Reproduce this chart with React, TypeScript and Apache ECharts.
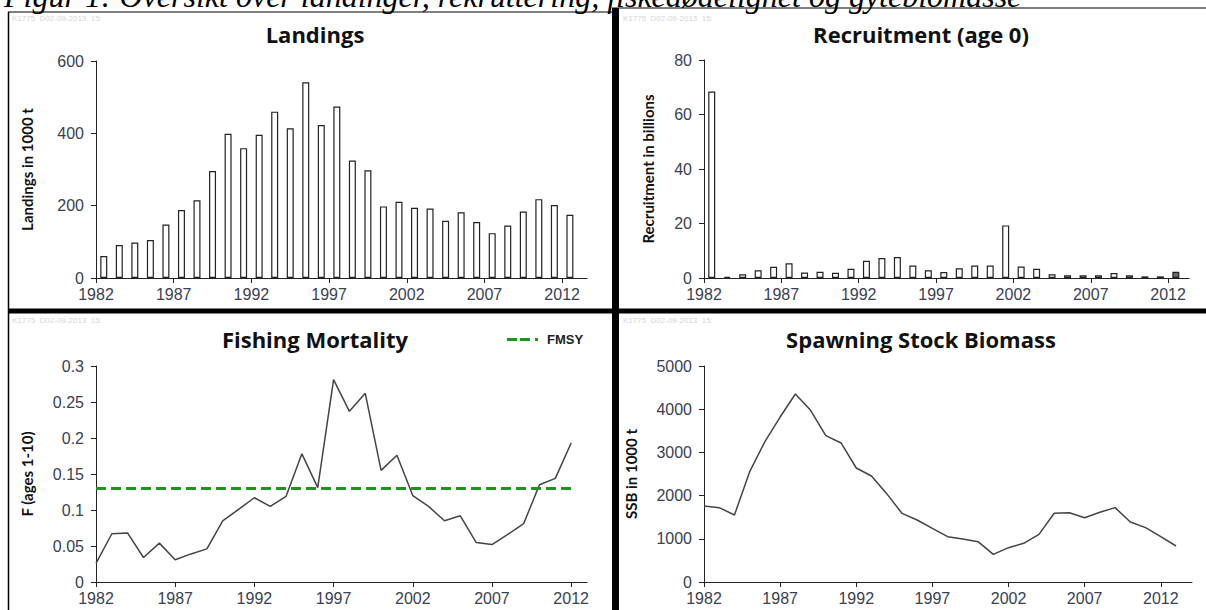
import { useEffect, useRef } from "react";
import * as echarts from "echarts";

const years = [1982, 1983, 1984, 1985, 1986, 1987, 1988, 1989, 1990, 1991, 1992, 1993, 1994, 1995, 1996, 1997, 1998, 1999, 2000, 2001, 2002, 2003, 2004, 2005, 2006, 2007, 2008, 2009, 2010, 2011, 2012];
const ssbYears = [1982, 1983, 1984, 1985, 1986, 1987, 1988, 1989, 1990, 1991, 1992, 1993, 1994, 1995, 1996, 1997, 1998, 1999, 2000, 2001, 2002, 2003, 2004, 2005, 2006, 2007, 2008, 2009, 2010, 2011, 2012, 2013];
const xTickYears = [1982, 1987, 1992, 1997, 2002, 2007, 2012];

const landings = [61, 91, 98, 105, 148, 188, 215, 296, 399, 359, 396, 460, 414, 541, 423, 474, 325, 298, 198, 211, 194, 192, 158, 182, 155, 124, 145, 184, 218, 202, 175];
const recruitment = [68.4, 0.4, 1.4, 2.8, 4.1, 5.4, 2.0, 2.3, 1.9, 3.4, 6.3, 7.3, 7.7, 4.6, 2.8, 2.2, 3.6, 4.6, 4.6, 19.3, 4.2, 3.4, 1.4, 1.0, 1.0, 1.0, 1.8, 1.0, 0.6, 0.6, 2.3];
const fishingMortality = [0.026, 0.067, 0.068, 0.034, 0.054, 0.031, 0.039, 0.046, 0.085, 0.101, 0.117, 0.105, 0.119, 0.178, 0.131, 0.281, 0.237, 0.262, 0.155, 0.176, 0.12, 0.105, 0.085, 0.092, 0.055, 0.052, 0.066, 0.081, 0.135, 0.144, 0.193];
const ssb = [1759, 1721, 1551, 2554, 3248, 3819, 4352, 3974, 3387, 3218, 2639, 2454, 2045, 1590, 1435, 1242, 1049, 995, 934, 640, 795, 895, 1103, 1590, 1605, 1489, 1613, 1721, 1389, 1258, 1049, 833];
const fmsy = 0.13;

const caption = "Figur 1: Oversikt over landinger, rekruttering, fiskedødelighet og gytebiomasse";
const watermark = "K1775  D02-09-2013  15:";

const labelColor = "#3a4152";
const axisColor = "#222";
const tickFont = "Liberation Sans, Arial, sans-serif";
const titleFont = "'Open Sans', Lato, sans-serif";
const nameFont = "Lato, 'Open Sans', sans-serif";

function xAxis(gridIndex: number, max: number) {
  return {
    type: "value",
    gridIndex,
    min: 1982,
    max,
    splitLine: { show: false },
    axisLine: { lineStyle: { color: axisColor, width: 1 } },
    axisTick: { length: 5, customValues: xTickYears, lineStyle: { color: axisColor } },
    axisLabel: {
      customValues: xTickYears,
      formatter: (v: number) => String(v),
      fontSize: 16,
      fontFamily: tickFont,
      color: labelColor,
      margin: 8,
    },
  };
}

function yAxis(gridIndex: number, max: number, interval: number, name: string, nameGap: number) {
  return {
    type: "value",
    gridIndex,
    min: 0,
    max,
    interval,
    name,
    nameLocation: "middle",
    nameGap,
    nameTextStyle: { fontFamily: nameFont, fontWeight: "bold", fontSize: 15, color: "#111" },
    splitLine: { show: false },
    axisLine: { show: true, lineStyle: { color: axisColor, width: 1 } },
    axisTick: { show: true, length: 5, lineStyle: { color: axisColor } },
    axisLabel: {
      formatter: (v: number) => String(v),
      fontSize: 16,
      fontFamily: tickFont,
      color: labelColor,
      margin: 12,
    },
  };
}

function title(text: string, left: number, top: number) {
  return {
    text,
    left,
    top,
    textAlign: "center",
    textStyle: { fontFamily: titleFont, fontWeight: "bold", fontSize: 22, color: "#111" },
  };
}

function wm(x: number, y: number) {
  return {
    type: "text",
    x,
    y,
    style: { text: watermark, fill: "#d6d6d6", fontSize: 8, fontFamily: tickFont, verticalAlign: "middle" },
    silent: true,
  };
}

export default function App() {
  const ref = useRef<HTMLDivElement>(null);
  useEffect(() => {
    if (!ref.current) return;
    const chart = echarts.init(ref.current, undefined, { renderer: "svg" });
    const barStyle = { color: "#fff", borderColor: "#222", borderWidth: 1.2 };
    chart.setOption({
      animation: false,
      backgroundColor: "#fff",
      title: [
        title("Landings", 310, 18),
        title("Recruitment (age 0)", 916, 18),
        title("Fishing Mortality", 310, 323),
        title("Spawning Stock Biomass", 916, 323),
      ],
      legend: {
        data: [{ name: "FMSY", icon: "path://M0,0H10V3H0Z M13,0H23V3H13Z M28,0H31V3H28Z" }],
        left: 502,
        top: 328,
        itemWidth: 31,
        itemHeight: 3,
        itemGap: 6,
        textStyle: { fontSize: 13, fontWeight: "bold", fontFamily: tickFont, color: "#222", padding: [0, 0, 0, 4] },
      },
      grid: [
        { left: 96, top: 61, width: 491, height: 217 },
        { left: 704, top: 60, width: 485, height: 218 },
        { left: 96, top: 366, width: 491, height: 216 },
        { left: 704, top: 366, width: 488, height: 216 },
      ],
      xAxis: [xAxis(0, 2013.6), xAxis(1, 2013.35), xAxis(2, 2013.0), xAxis(3, 2014.05)],
      yAxis: [
        yAxis(0, 600, 200, "Landings in 1000 t", 62),
        yAxis(1, 80, 20, "Recruitment in billions", 49),
        yAxis(2, 0.3, 0.05, "F (ages 1-10)", 62),
        yAxis(3, 5000, 1000, "SSB in 1000 t", 66),
      ],
      graphic: [
        {
          type: "text",
          x: 4,
          y: -4,
          style: {
            text: caption,
            fontSize: 32,
            fontStyle: "italic",
            fontFamily: "Liberation Serif, Times New Roman, serif",
            fill: "#000",
            verticalAlign: "middle",
          },
          silent: true,
        },
        wm(12, 18),
        wm(623, 18),
        wm(12, 320),
        wm(623, 320),
        { type: "line", shape: { x1: 8.5, y1: 12, x2: 8.5, y2: 610 }, style: { stroke: "#000", lineWidth: 1.5 }, silent: true },
        { type: "line", shape: { x1: 8, y1: 12, x2: 612, y2: 12 }, style: { stroke: "#000", lineWidth: 1.2 }, silent: true },
        { type: "line", shape: { x1: 612, y1: 8, x2: 1206, y2: 8 }, style: { stroke: "#000", lineWidth: 1.2 }, silent: true },
        { type: "rect", shape: { x: 612, y: 8, width: 7, height: 602 }, style: { fill: "#000" }, silent: true },
        { type: "rect", shape: { x: 8, y: 308.5, width: 1198, height: 5 }, style: { fill: "#000" }, silent: true },
      ],
      series: [
        {
          type: "bar",
          name: "Landings",
          xAxisIndex: 0,
          yAxisIndex: 0,
          barWidth: 7,
          itemStyle: barStyle,
          data: years.map((y, i) => [y + 0.5, landings[i]]),
        },
        {
          type: "bar",
          name: "Recruitment",
          xAxisIndex: 1,
          yAxisIndex: 1,
          barWidth: 7,
          itemStyle: barStyle,
          data: years.map((y, i) =>
            i === years.length - 1
              ? { value: [y + 0.5, recruitment[i]], itemStyle: { color: "#6a6a6a" } }
              : [y + 0.5, recruitment[i]]
          ),
        },
        {
          type: "line",
          name: "F",
          xAxisIndex: 2,
          yAxisIndex: 2,
          symbol: "none",
          lineStyle: { color: "#444", width: 1.5 },
          data: years.map((y, i) => [y, fishingMortality[i]]),
        },
        {
          type: "line",
          name: "FMSY",
          xAxisIndex: 2,
          yAxisIndex: 2,
          symbol: "none",
          color: "#1f951f",
          lineStyle: { color: "#1f951f", width: 3, type: [10, 5] },
          data: [
            [years[0], fmsy],
            [years[years.length - 1], fmsy],
          ],
        },
        {
          type: "line",
          name: "SSB",
          xAxisIndex: 3,
          yAxisIndex: 3,
          symbol: "none",
          lineStyle: { color: "#444", width: 1.5 },
          data: ssbYears.map((y, i) => [y, ssb[i]]),
        },
      ],
    });
    return () => chart.dispose();
  }, []);
  return <div ref={ref} style={{ position: "fixed", left: 0, top: 0, width: 1206, height: 610 }} />;
}
